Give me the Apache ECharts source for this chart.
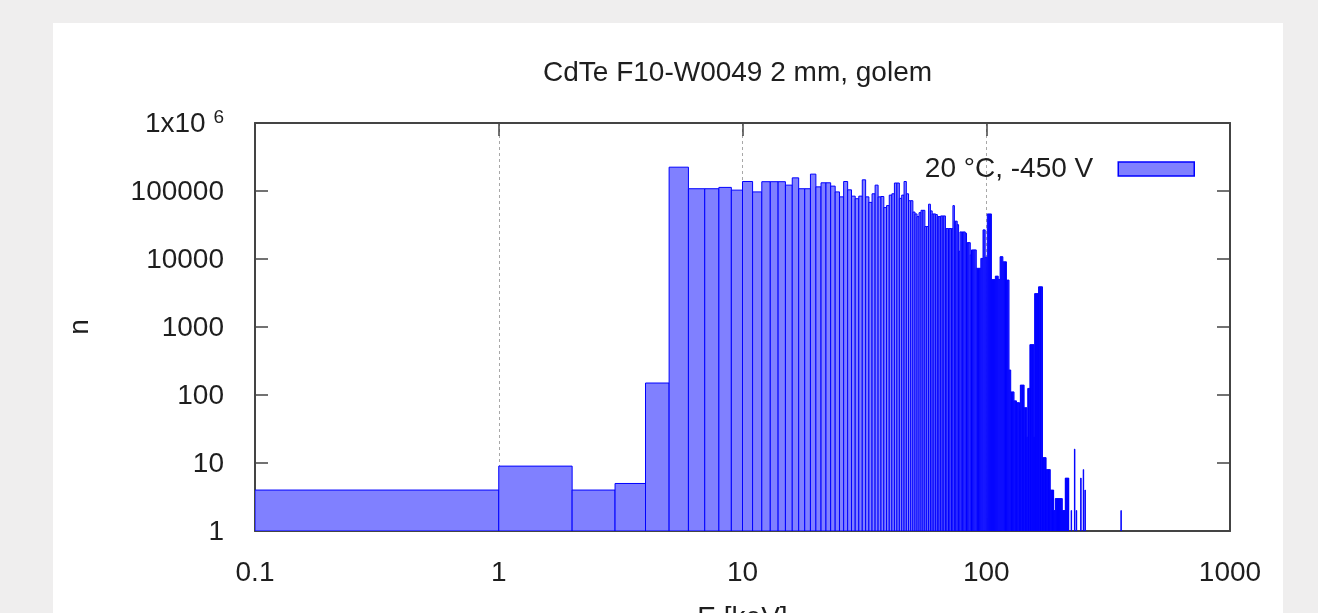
<!DOCTYPE html>
<html>
<head>
<meta charset="utf-8">
<script src="https://cdn.jsdelivr.net/npm/echarts@6/dist/echarts.min.js"></script>
<style>
  html, body { margin: 0; padding: 0; background: #efeeee; }
  #card { position: absolute; left: 53px; top: 23px; width: 1230px; height: 620px; background: #ffffff; }
  #chart { position: absolute; left: 0; top: 0; width: 1318px; height: 613px; }
</style>
</head>
<body>
<div id="card"></div>
<div id="chart"></div>
<script>
// ---- data ----
const chartTitle = 'CdTe F10-W0049 2 mm, golem';
const seriesName = '20 °C, -450 V';
const xAxisName = 'E [keV]';
const yAxisName = 'n';
const binWidthKeV = 1;
// counts[i] = number of events in the bin [i, i+1) keV
const counts = [
  4, 9, 4, 5, 150, 224000, 108000, 108000, 113000, 103000,
  138000, 97000, 137000, 137000, 137000, 122000, 156000, 108000, 108000, 177000,
  115000, 132000, 132000, 118000, 97000, 82000, 138000, 104000, 84000, 77000,
  84000, 146000, 82000, 68000, 91000, 122000, 82000, 83000, 57000, 61000,
  87000, 91000, 131000, 131000, 78000, 87000, 138000, 91000, 72000, 72000,
  49000, 46000, 42000, 48000, 52000, 52000, 30000, 30000, 64000, 51000,
  46000, 46000, 45000, 42000, 42000, 43000, 43000, 43000, 28000, 28000,
  28000, 28000, 28000, 61000, 36000, 36000, 32000, 13000, 25000, 25000,
  25000, 25000, 24000, 17400, 17400, 17400, 11500, 13600, 13600, 13600,
  13600, 7300, 7300, 7300, 7300, 10200, 10200, 26800, 26800, 10600,
  10600, 46000, 46000, 46000, 46000, 5000, 5000, 5000, 5000, 5600,
  5600, 5600, 5000, 5000, 10800, 10800, 10800, 9100, 9100, 9100,
  9100, 4900, 4900, 4900, 233, 233, 111, 111, 111, 111,
  82, 82, 82, 77, 77, 77, 77, 60, 140, 140,
  140, 140, 140, 65, 65, 65, 65, 24, 125, 125,
  125, 550, 550, 550, 550, 550, 550, 24, 3100, 3100,
  3100, 3100, 3100, 3100, 3900, 3900, 3900, 3900, 3900, 3900,
  12, 12, 12, 12, 12, 12, 8, 8, 8, 8,
  8, 8, 8, 4, 4, 4, 4, 4, 4, 2,
  2, 2, 3, 3, 3, 3, 3, 3, 3, 3,
  3, 3, 3, 3, 3, 2, 2, 2, 2, 2,
  2, 6, 6, 6, 6, 6, 6, 6, 0, 0,
  0, 0, 0, 2, 0, 0, 0, 0, 0, 0,
  16, 0, 0, 0, 2, 0, 0, 0, 0, 0,
  0, 0, 0, 0, 6, 0, 0, 0, 0, 0,
  8, 0, 0, 0, 4
];
// isolated far-tail bins (lower edge in keV) and their counts
const tailBins = [357];
const tailCounts = [2];
const xTicks = [0.1, 1, 10, 100, 1000];
const yTicks = [1, 10, 100, 1000, 10000, 100000, 1000000];

// ---- build ----
const X_MIN = xTicks[0], X_MAX = xTicks[xTicks.length - 1];
const Y_MIN = yTicks[0], Y_MAX = yTicks[yTicks.length - 1];
const bins = [];
counts.forEach((n, i) => { if (n > 0) bins.push([Math.max(i, X_MIN), i + binWidthKeV, n]); });
tailBins.forEach((b, k) => { if (tailCounts[k] > 0) bins.push([b, b + binWidthKeV, tailCounts[k]]); });

const FONT = '"Liberation Sans", Arial, sans-serif';
const FS = 28;
const TXT = '#1e1e1e';
const AX = '#444444';
const FILL = '#8080ff';
const EDGE = '#0000ff';

const fmtX = v => String(+(+v).toPrecision(6));
const fmtY = v => {
  const r = +(+v).toPrecision(6);
  if (r >= 1000000) return '{a|1x10 }{sup|6}';
  return '{a|' + r + '}';
};

const chart = echarts.init(document.getElementById('chart'), null, { renderer: 'canvas' });
const tickCommon = { show: true, inside: true, length: 13, lineStyle: { color: AX, width: 1.5 } };
const lineCommon = { show: true, lineStyle: { color: AX, width: 2 } };

chart.setOption({
  animation: false,
  backgroundColor: 'transparent',
  textStyle: { fontFamily: FONT },
  title: {
    text: chartTitle,
    left: 543, top: 59, padding: 0,
    textStyle: { fontFamily: FONT, fontSize: FS, fontWeight: 'normal', color: TXT }
  },
  legend: {
    data: [seriesName],
    right: 123, top: 155, padding: 0,
    align: 'right',
    icon: 'rect',
    itemWidth: 76, itemHeight: 14,
    textStyle: { fontFamily: FONT, fontSize: FS, color: TXT, padding: [0, 20, 0, 0] },
    itemStyle: { color: FILL, borderColor: EDGE, borderWidth: 1.5 }
  },
  grid: { left: 255, top: 123, width: 975, height: 408, containLabel: false, outerBoundsMode: 'none' },
  xAxis: [
    {
      type: 'log', logBase: 10, min: X_MIN, max: X_MAX,
      name: xAxisName, nameLocation: 'middle', nameGap: 73,
      nameTextStyle: { fontFamily: FONT, fontSize: FS, color: TXT },
      axisLine: lineCommon, axisTick: tickCommon,
      axisLabel: { show: true, margin: 28, fontFamily: FONT, fontSize: FS, color: TXT, formatter: fmtX },
      splitLine: { show: true, lineStyle: { color: '#a8a8a8', width: 1, type: [3, 3] } },
      minorTick: { show: false }, minorSplitLine: { show: false }
    },
    {
      type: 'log', logBase: 10, min: X_MIN, max: X_MAX, position: 'top',
      axisLine: lineCommon, axisTick: tickCommon,
      axisLabel: { show: false }, splitLine: { show: false }
    }
  ],
  yAxis: [
    {
      type: 'log', logBase: 10, min: Y_MIN, max: Y_MAX,
      name: yAxisName, nameLocation: 'middle', nameGap: 161, nameRotate: 90,
      nameTextStyle: { fontFamily: FONT, fontSize: FS, color: TXT },
      axisLine: lineCommon, axisTick: tickCommon,
      axisLabel: {
        show: true, margin: 31, formatter: fmtY,
        rich: {
          a: { fontFamily: FONT, fontSize: FS, color: TXT, lineHeight: 30, verticalAlign: 'bottom' },
          sup: { fontFamily: FONT, fontSize: 19, color: TXT, lineHeight: 19, verticalAlign: 'top', padding: [0, 0, 20, 0] }
        }
      },
      splitLine: { show: false }
    },
    {
      type: 'log', logBase: 10, min: Y_MIN, max: Y_MAX, position: 'right',
      axisLine: lineCommon, axisTick: tickCommon,
      axisLabel: { show: false }, splitLine: { show: false }
    }
  ],
  series: [{
    type: 'custom',
    name: seriesName,
    xAxisIndex: 0, yAxisIndex: 0,
    clip: true,
    encode: { x: [0, 1], y: 2 },
    itemStyle: { color: FILL, borderColor: EDGE, borderWidth: 1 },
    data: bins,
    renderItem: function (params, api) {
      const lo = api.value(0), hi = api.value(1), n = api.value(2);
      const p0 = api.coord([lo, n]);
      const p1 = api.coord([hi, Y_MIN]);
      return {
        type: 'rect',
        shape: { x: p0[0], y: p0[1], width: p1[0] - p0[0], height: p1[1] - p0[1] },
        style: { fill: FILL, stroke: EDGE, lineWidth: 1 }
      };
    }
  }]
});
</script>
</body>
</html>
